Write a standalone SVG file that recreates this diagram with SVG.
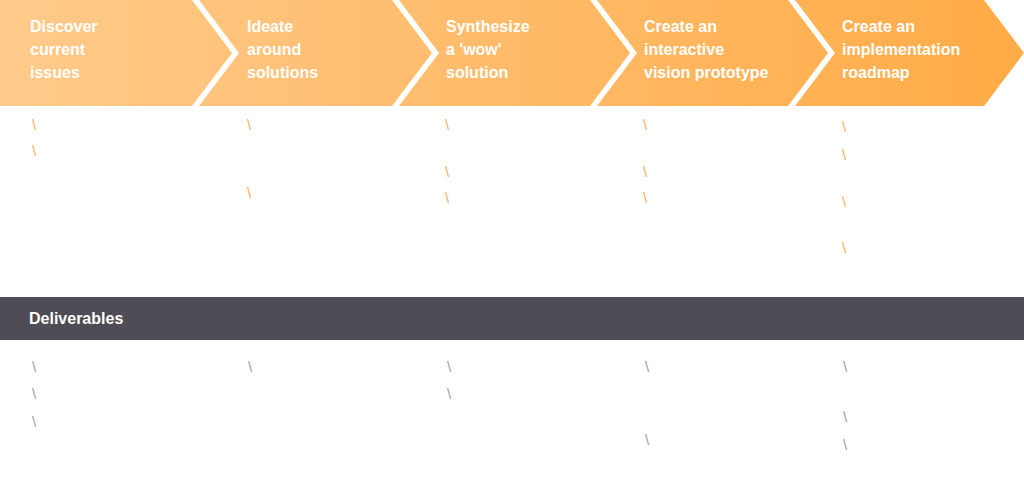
<svg xmlns="http://www.w3.org/2000/svg" width="1024" height="500" viewBox="0 0 1024 500">
<defs>
<linearGradient id="g" gradientUnits="userSpaceOnUse" x1="0" y1="0" x2="1024" y2="0">
<stop offset="0" stop-color="#FFCA8B"/>
<stop offset="1" stop-color="#FFAB46"/>
</linearGradient>
<style>
.chev{fill:url(#g)}
.t{font-family:"Liberation Sans",Arial,sans-serif;font-weight:bold;font-size:16px;fill:#fff}
.bo{font-family:"Liberation Sans",Arial,sans-serif;font-size:15px;fill:#FFAE50}
.bg{font-family:"Liberation Sans",Arial,sans-serif;font-size:15px;fill:#A0A0A0}
</style>
</defs>
<rect width="1024" height="500" fill="#fff"/>
<g id="step1">
<path class="chev" d="M0,0 H192 L232,53 L192,106 H0 Z"/>
<text class="t" x="30" y="32">Discover</text>
<text class="t" x="30" y="55">current</text>
<text class="t" x="30" y="78">issues</text>
</g>
<g id="step2">
<path class="chev" d="M199,0 H392 L432,53 L392,106 H199 L239,53 Z"/>
<text class="t" x="247" y="32">Ideate</text>
<text class="t" x="247" y="55">around</text>
<text class="t" x="247" y="78">solutions</text>
</g>
<g id="step3">
<path class="chev" d="M399,0 H590 L630,53 L590,106 H399 L439,53 Z"/>
<text class="t" x="446" y="32">Synthesize</text>
<text class="t" x="446" y="55">a 'wow'</text>
<text class="t" x="446" y="78">solution</text>
</g>
<g id="step4">
<path class="chev" d="M597,0 H788 L828,53 L788,106 H597 L637,53 Z"/>
<text class="t" x="644" y="32">Create an</text>
<text class="t" x="644" y="55">interactive</text>
<text class="t" x="644" y="78">vision prototype</text>
</g>
<g id="step5">
<path class="chev" d="M795,0 H984 L1024,53 L984,106 H795 L835,53 Z"/>
<text class="t" x="842" y="32">Create an</text>
<text class="t" x="842" y="55">implementation</text>
<text class="t" x="842" y="78">roadmap</text>
</g>
<g id="activities">
<text class="bo" x="32" y="130">\</text>
<text class="bo" x="32" y="156">\</text>
<text class="bo" x="247" y="130">\</text>
<text class="bo" x="247" y="198">\</text>
<text class="bo" x="445" y="130">\</text>
<text class="bo" x="445" y="177">\</text>
<text class="bo" x="445" y="203">\</text>
<text class="bo" x="643" y="130">\</text>
<text class="bo" x="643" y="177">\</text>
<text class="bo" x="643" y="203">\</text>
<text class="bo" x="842" y="132">\</text>
<text class="bo" x="842" y="160">\</text>
<text class="bo" x="842" y="207">\</text>
<text class="bo" x="842" y="253">\</text>
</g>
<g id="deliverables-band">
<rect x="0" y="297" width="1024" height="43" fill="#4F4C55"/>
<text class="t" x="29" y="324">Deliverables</text>
</g>
<g id="deliverables">
<text class="bg" x="32" y="372">\</text>
<text class="bg" x="32" y="399">\</text>
<text class="bg" x="32" y="427">\</text>
<text class="bg" x="248" y="372">\</text>
<text class="bg" x="447" y="372">\</text>
<text class="bg" x="447" y="399">\</text>
<text class="bg" x="645" y="372">\</text>
<text class="bg" x="645" y="445">\</text>
<text class="bg" x="843" y="372">\</text>
<text class="bg" x="843" y="422">\</text>
<text class="bg" x="843" y="450">\</text>
</g>
<g id="connectors"/>
</svg>
